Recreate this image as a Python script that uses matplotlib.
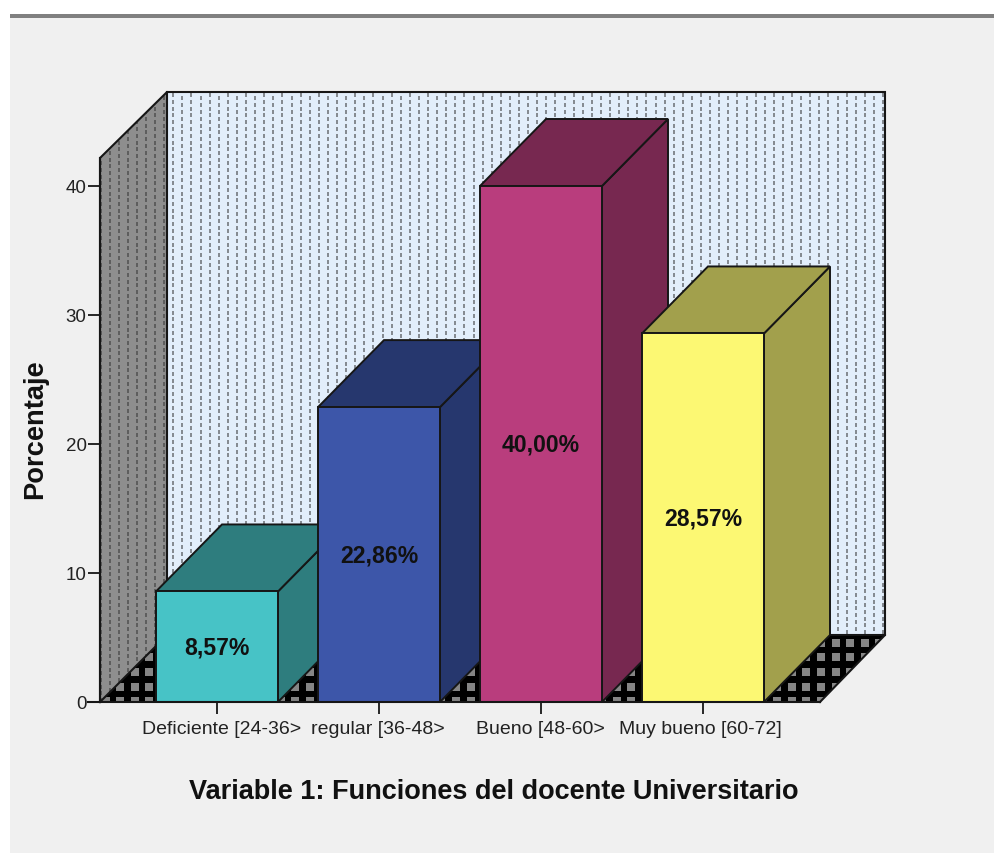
import numpy as np
import matplotlib
matplotlib.use("Agg")
import matplotlib.pyplot as plt
from matplotlib.patches import Polygon, Rectangle
from matplotlib.transforms import ScaledTranslation

categories = ["Deficiente [24-36>", "regular [36-48>", "Bueno [48-60>", "Muy bueno [60-72]"]
values = [8.57, 22.86, 40.00, 28.57]
value_labels = ["8,57%", "22,86%", "40,00%", "28,57%"]
front_colors = ["#47c3c6", "#3d56a9", "#b93d7d", "#fcf873"]
dark_colors = ["#2e7d7e", "#26376e", "#772850", "#a2a04c"]
y_ticks = [0, 10, 20, 30, 40]
y_label = "Porcentaje"
x_label = "Variable 1: Funciones del docente Universitario"

W, H = 995, 854
PX_X, PX_Y = 162.0, 12.9      # pixels per category, per percent
X0_PX, Y0_PX = 217.0, 702.0   # pixel of first category / of value 0
DX, DY = 66 / PX_X, 67 / PX_Y  # 3-D depth in data units
BAR_W = 122 / PX_X
LABEL_SHIFT_PX = [5, -1, -1, -3]

def xd(px):
    return (np.asarray(px, float) - X0_PX) / PX_X
def yd(py):
    return (Y0_PX - np.asarray(py, float)) / PX_Y

BG = "#f0f0f0"
EDGE = "#161616"
plt.rcParams["font.family"] = ["Liberation Sans", "DejaVu Sans"]

fig = plt.figure(figsize=(W / 100, H / 100), dpi=100, facecolor="white")
ax = fig.add_axes([0, 0, 1, 1])
ax.set_xlim(xd(0), xd(W))
ax.set_ylim(yd(H - 1), yd(-1))
ax.set_facecolor("white")

# panel and top rule
ax.add_patch(Rectangle((xd(10), yd(H + 2)), (W - 8) / PX_X, (H - 13) / PX_Y, fc=BG, ec="none", zorder=0))
ax.add_patch(Rectangle((xd(10), yd(18)), (W - 8) / PX_X, 3.5 / PX_Y, fc="#808080", ec="none", zorder=0.5))

# walls and floor
left_x, back_x, right_x = xd(100), xd(167), xd(885)
top_front, top_back = yd(158), yd(92)
floor_back = yd(635)
front_right = xd(820)

back = Polygon([(back_x, floor_back), (right_x, floor_back), (right_x, top_back), (back_x, top_back)],
               fc="#e2eefb", ec="none", zorder=1)
left = Polygon([(left_x, 0), (back_x, floor_back), (back_x, top_back), (left_x, top_front)],
               fc="#8e8e8e", ec="none", zorder=1)
floor = Polygon([(left_x, 0), (back_x, floor_back), (right_x, floor_back), (front_right, 0)],
                fc="black", ec="none", zorder=1)
for p in (back, left, floor):
    ax.add_patch(p)

def dashes(xs, y_start, y_end, color, patch):
    for i, x in enumerate(xs):
        ys = np.arange(y_start + (3.4 if i % 2 else 0), y_end, 6.8)
        ln, = ax.plot(xd(np.full(ys.shape, x)), yd(ys), ls="none", marker="|", ms=2.2, mew=1.2,
                      color=color, zorder=1.5)
        ln.set_clip_path(patch)

dashes(np.arange(173.3, 885, 9.1), 95, 635, "#73787e", back)
dashes(np.arange(100.5, 167, 9.1), 95, 702, "#555555", left)

# floor squares
gx, gy = np.meshgrid(np.arange(91, 890, 14.6), np.arange(642.7, 705, 14.6))
sq, = ax.plot(xd(gx.ravel()), yd(gy.ravel()), ls="none", marker="s", ms=5.2, mew=0, color="#858585", zorder=1.5)
sq.set_clip_path(floor)

# outlines
for pts in ([(left_x, 0), (left_x, top_front), (back_x, top_back), (right_x, top_back),
             (right_x, floor_back), (front_right, 0)],
            [(back_x, top_back), (back_x, floor_back), (right_x, floor_back)],
            [(left_x, 0), (back_x, floor_back)]):
    a = np.array(pts)
    ax.plot(a[:, 0], a[:, 1], color=EDGE, lw=1.5, zorder=2, solid_joinstyle="miter")

# bars
for i, (v, fc, dc, lab) in enumerate(zip(values, front_colors, dark_colors, value_labels)):
    l, r = i - BAR_W / 2, i + BAR_W / 2
    z = 3 + i
    ax.add_patch(Polygon([(r, 0), (r + DX, DY), (r + DX, v + DY), (r, v)], fc=dc, ec=EDGE, lw=1.4, zorder=z))
    ax.add_patch(Polygon([(l, v), (l + DX, v + DY), (r + DX, v + DY), (r, v)], fc=dc, ec=EDGE, lw=1.4, zorder=z))
    ax.bar(i, v, width=BAR_W, color=fc, edgecolor=EDGE, linewidth=1.4, zorder=z + 0.1)
    ax.text(i, v / 2, lab, ha="center", va="center", fontsize=16.6, fontweight="bold",
            color="#111111", zorder=z + 0.2)

# axes
for s in ("top", "right"):
    ax.spines[s].set_visible(False)
ax.spines["left"].set_position(("data", left_x))
ax.spines["left"].set_bounds(0, top_front)
ax.spines["bottom"].set_position(("data", 0))
ax.spines["bottom"].set_bounds(left_x - 12 / PX_X, front_right)
for s in ("left", "bottom"):
    ax.spines[s].set_linewidth(1.5)
    ax.spines[s].set_color(EDGE)
    ax.spines[s].set_zorder(10)
ax.set_yticks(y_ticks)
ax.set_xticks(range(len(categories)))
ax.set_xticklabels(categories)
ax.tick_params(axis="y", length=8.6, width=1.3, pad=1, labelsize=13.5, color=EDGE, labelcolor="#222222")
ax.tick_params(axis="x", length=8.6, width=1.3, pad=-1, labelsize=14, color=EDGE, labelcolor="#222222")
for lbl, sh in zip(ax.get_xticklabels(), LABEL_SHIFT_PX):
    lbl.set_transform(lbl.get_transform() + ScaledTranslation(sh / 100, -7 / 100, fig.dpi_scale_trans))
ax.set_xlabel(x_label, fontsize=19.5, fontweight="bold", color="#111111")
ax.set_ylabel(y_label, fontsize=19.6, fontweight="bold", color="#111111")
ax.xaxis.set_label_coords(494 / W, 1 - 792 / H)
ax.yaxis.set_label_coords(35 / W, 1 - 429 / H)
ax.xaxis.label.set_va("center")
ax.yaxis.label.set_va("center")

fig.savefig("out.png", dpi=100)
